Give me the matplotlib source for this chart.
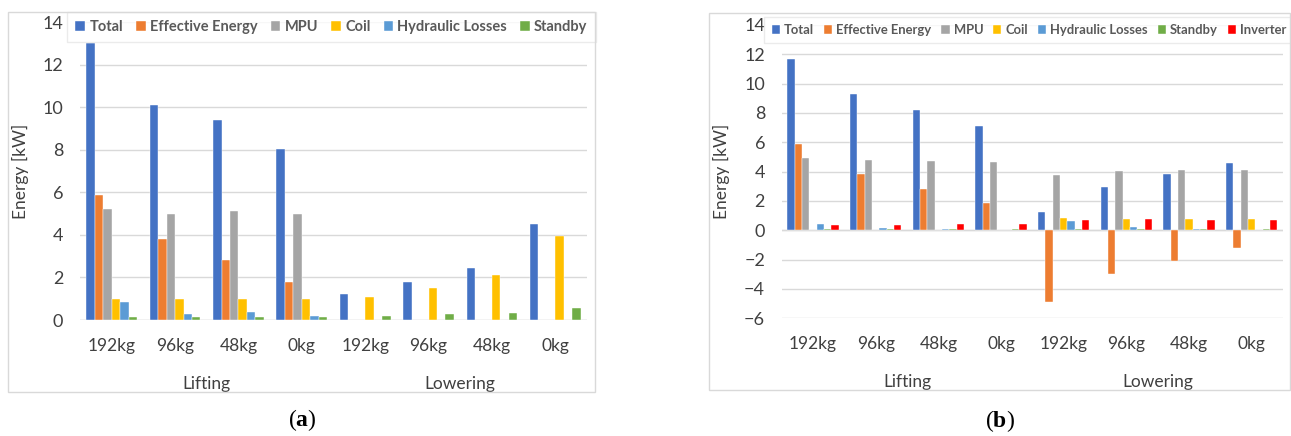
import matplotlib
matplotlib.use("Agg")
import matplotlib.pyplot as plt
import numpy as np
from matplotlib.patches import Rectangle

plt.rcParams['font.family'] = ['Lato', 'DejaVu Sans']
plt.rcParams['mathtext.fontset'] = 'custom'
plt.rcParams['mathtext.bf'] = 'Liberation Serif:bold'
plt.rcParams['mathtext.rm'] = 'Liberation Serif'

# data
categories = ['192kg', '96kg', '48kg', '0kg', '192kg', '96kg', '48kg', '0kg']
groups = ['Lifting', 'Lowering']

a_series = ['Total', 'Effective Energy', 'MPU', 'Coil', 'Hydraulic Losses', 'Standby']
a_total = [13.05, 10.13, 9.39, 8.06, 1.23, 1.80, 2.43, 4.52]
a_effective = [5.87, 3.79, 2.82, 1.80, 0, 0, 0, 0]
a_mpu = [5.24, 4.98, 5.12, 5.00, 0, 0, 0, 0]
a_coil = [1.00, 1.00, 1.00, 0.97, 1.09, 1.52, 2.11, 3.96]
a_hydraulic = [0.86, 0.28, 0.39, 0.17, 0, 0, 0, 0]
a_standby = [0.15, 0.13, 0.13, 0.14, 0.19, 0.27, 0.33, 0.58]

b_series = ['Total', 'Effective Energy', 'MPU', 'Coil', 'Hydraulic Losses', 'Standby', 'Inverter']
b_total = [11.70, 9.32, 8.23, 7.10, 1.22, 2.97, 3.83, 4.60]
b_effective = [5.87, 3.83, 2.83, 1.84, -4.86, -2.99, -2.09, -1.18]
b_mpu = [4.90, 4.80, 4.71, 4.65, 3.74, 4.03, 4.10, 4.10]
b_coil = [0, 0, 0, 0, 0.84, 0.77, 0.77, 0.77]
b_hydraulic = [0.43, 0.16, 0.08, 0.03, 0.65, 0.20, 0.10, 0.03]
b_standby = [0.10, 0.12, 0.12, 0.12, 0.10, 0.10, 0.10, 0.10]
b_inverter = [0.34, 0.34, 0.40, 0.43, 0.70, 0.75, 0.73, 0.68]

colors = ['#4472C4', '#ED7D31', '#A5A5A5', '#FFC000', '#5B9BD5', '#70AD47', '#FF0000']

W, H = 1291, 436
fig = plt.figure(figsize=(W / 100, H / 100), dpi=100)


def px_axes(x0, x1, ytop, ybot):
    return fig.add_axes([x0 / W, 1 - ybot / H, (x1 - x0) / W, (ybot - ytop) / H])


def draw_panel(ax, names, values, ylim, group_w, leg_box, leg_size, colsp):
    x = np.arange(len(categories))
    n = len(values)
    w = group_w / n
    for i, (name, vals) in enumerate(zip(names, values)):
        ax.bar(x + (i - (n - 1) / 2) * w, vals, w, color=colors[i], label=name,
               edgecolor='white', linewidth=0.3, zorder=3)
    ax.set_xlim(-0.5, len(categories) - 0.5)
    ax.set_ylim(*ylim)
    ax.set_yticks(np.arange(ylim[0], ylim[1] + 1, 2))
    ax.yaxis.grid(True, color='#d9d9d9', linewidth=1, zorder=0)
    ax.axhline(0, color='#d9d9d9', linewidth=1, zorder=1)
    for s in ax.spines.values():
        s.set_visible(False)
    ax.set_xticks(x)
    ax.set_xticklabels(categories)
    ax.tick_params(axis='x', length=0, pad=13, labelsize=12.5, labelcolor='#404040')
    ax.tick_params(axis='y', length=0, pad=12, labelsize=13, labelcolor='#404040')
    ax.set_ylabel('Energy [kW]', fontsize=12.5, color='#404040', labelpad=10)
    for j, g in enumerate(groups):
        ax.annotate(g, xy=(1.5 + 4 * j, 0), xycoords=('data', 'axes fraction'),
                    xytext=(0, -46), textcoords='offset points', ha='center', va='center',
                    fontsize=12.5, color='#404040')
    lx0, ly0, lx1, ly1 = leg_box
    leg = ax.legend(loc='center', bbox_to_anchor=((lx0 + lx1) / 2 / W, 1 - (ly0 + ly1) / 2 / H),
                    bbox_transform=fig.transFigure, ncol=n, frameon=True, fancybox=False,
                    handlelength=0.65, handleheight=0.65, handletextpad=0.3, columnspacing=colsp,
                    borderpad=0.55, borderaxespad=0, prop={'size': leg_size, 'weight': 'bold'})
    leg.get_frame().set_edgecolor('#e6e6e6')
    leg.get_frame().set_linewidth(1)
    for t in leg.get_texts():
        t.set_color('#595959')
    leg.set_zorder(5)


ax1 = px_axes(80, 587, 22.4, 320)
draw_panel(ax1, a_series, [a_total, a_effective, a_mpu, a_coil, a_hydraulic, a_standby],
           (0, 14), 0.80, (70, 13, 593, 41), 10.5, 0.9)

ax2 = px_axes(781.7, 1283, 25, 318.3)
draw_panel(ax2, b_series, [b_total, b_effective, b_mpu, b_coil, b_hydraulic, b_standby, b_inverter],
           (-6, 14), 0.82, (769, 15, 1289, 45), 9.4, 0.75)

# panel frames
fig.patches.append(Rectangle((8 / W, 1 - 392 / H), 587 / W, 380 / H, transform=fig.transFigure,
                             fill=False, edgecolor='#d9d9d9', linewidth=1))
fig.patches.append(Rectangle((709 / W, 1 - 390 / H), 581 / W, 377 / H, transform=fig.transFigure,
                             fill=False, edgecolor='#d9d9d9', linewidth=1))

fig.text(302 / W, 1 - 420 / H, r'($\mathbf{a}$)', ha='center', va='center', fontsize=17,
         family='Liberation Serif')
fig.text(1000 / W, 1 - 421 / H, r'($\mathbf{b}$)', ha='center', va='center', fontsize=17,
         family='Liberation Serif')

fig.savefig('out.png', dpi=100)
